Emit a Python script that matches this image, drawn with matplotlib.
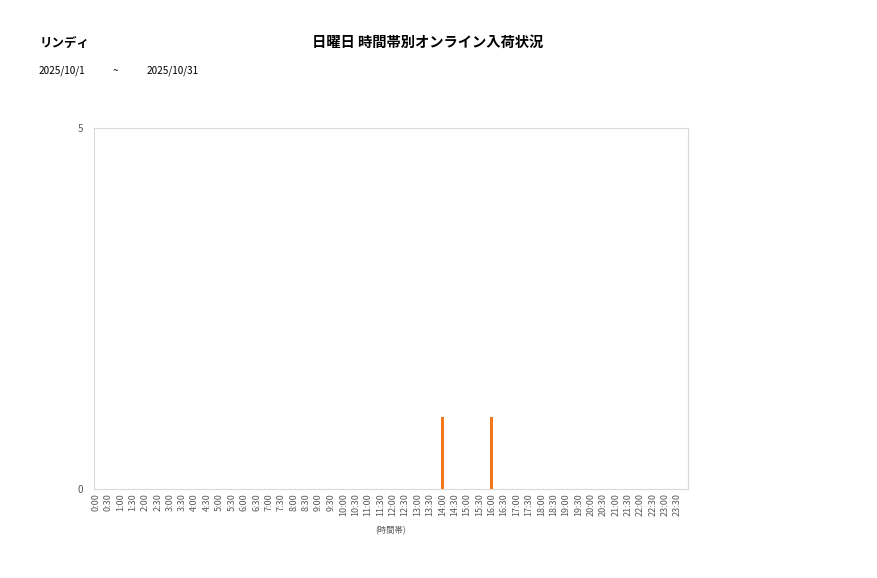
import matplotlib.pyplot as plt

plt.rcParams['font.family'] = ['Noto Sans CJK JP', 'DejaVu Sans']

# data
store = "リンディ"
title = "日曜日 時間帯別オンライン入荷状況"
date_from = "2025/10/1"
date_to = "2025/10/31"
slots = [f"{h}:{m:02d}" for h in range(24) for m in (0, 30)]
counts = [0] * 48
counts[slots.index("14:00")] = 1
counts[slots.index("16:00")] = 1

fig = plt.figure(figsize=(8.77, 5.78), dpi=100)
ax = fig.add_axes([94 / 877, 1 - 489 / 578, 594 / 877, 361 / 578])

ax.bar(range(len(slots)), counts, width=0.24, color="#F4761B")

ax.set_xlim(-0.15, len(slots) - 0.15)
ax.set_ylim(0, 5)
ax.set_yticks([0, 5])
ax.set_xticks(range(len(slots)))
ax.set_xticklabels(slots, rotation=90, fontsize=6.5, color="#595959")
ax.tick_params(axis="y", labelsize=7, length=0, pad=8, colors="#595959")
ax.tick_params(axis="x", length=0, pad=3)
for s in ax.spines.values():
    s.set_color("#D9D9D9")
    s.set_linewidth(0.8)

ax.set_xlabel("(時間帯)", fontsize=6, color="#595959", labelpad=7)

fig.text(428 / 877, 1 - 43 / 578, title, ha="center", va="center",
         fontsize=10.3, fontweight="bold")
fig.text(40 / 877, 1 - 43 / 578, store, ha="left", va="center",
         fontsize=9, fontweight="bold")
fig.text(39 / 877, 1 - 71 / 578, date_from, ha="left", va="center", fontsize=7.2)
fig.text(115 / 877, 1 - 71 / 578, "~", ha="center", va="center", fontsize=7.2)
fig.text(147 / 877, 1 - 71 / 578, date_to, ha="left", va="center", fontsize=7.2)

fig.savefig("out.png", dpi=100)
